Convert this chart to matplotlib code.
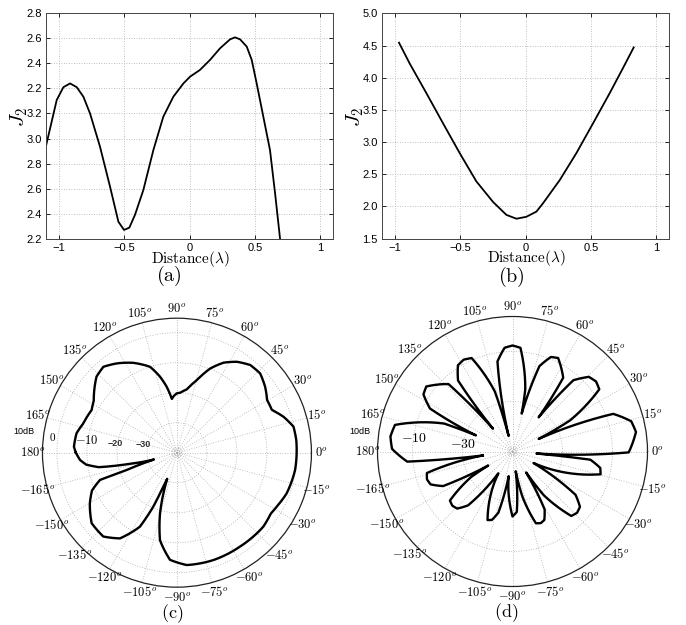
import numpy as np
import matplotlib.pyplot as plt

plt.rcParams['mathtext.fontset'] = 'cm'
plt.rcParams['font.family'] = ['Liberation Sans', 'DejaVu Sans']

# ---- (a) J2 vs distance; y is on the stacked scale that the tick labels show
dist_a = [-1.1, -1.018, -0.967, -0.916, -0.865, -0.814, -0.763, -0.687, -0.61, -0.546,
          -0.503, -0.462, -0.419, -0.355, -0.278, -0.202, -0.125, -0.048, 0.003, 0.079,
          0.156, 0.232, 0.309, 0.347, 0.386, 0.437, 0.475, 0.513, 0.564, 0.615, 0.654, 0.692]
j2_a = [2.942, 3.308, 3.41, 3.44, 3.41, 3.334, 3.2, 2.936, 2.616, 2.336,
        2.27, 2.288, 2.39, 2.588, 2.908, 3.174, 3.334, 3.44, 3.494, 3.548,
        3.628, 3.72, 3.792, 3.808, 3.792, 3.734, 3.628, 3.44, 3.174, 2.908, 2.562, 2.2]
yticks_a = [2.2, 2.4, 2.6, 2.8, 3.0, 3.2, 3.4, 3.6, 3.8, 4.0]
yticklabels_a = ['2.2', '2.4', '2.6', '2.8', '3.0', '3.2', '2.2', '2.4', '2.6', '2.8']

# ---- (b)
dist_b = [-0.97, -0.888, -0.76, -0.632, -0.505, -0.377, -0.249, -0.198, -0.147, -0.07,
          0.006, 0.083, 0.134, 0.262, 0.39, 0.517, 0.645, 0.747, 0.829]
j2_b = [4.544, 4.22, 3.76, 3.29, 2.83, 2.39, 2.07, 1.97, 1.87, 1.81,
        1.84, 1.92, 2.05, 2.41, 2.83, 3.29, 3.76, 4.15, 4.47]
yticks_b = [1.5, 2.0, 2.5, 3.0, 3.5, 4.0, 4.5, 5.0]
yticklabels_b = ['1.5', '2.0', '2.5', '3.0', '3.5', '4.0', '4.5', '5.0']

xticks_ab = [-1, -0.5, 0, 0.5, 1]
xticklabels_ab = ['\u22121', '\u22120.5', '0', '0.5', '1']

# ---- polar patterns: (angle deg, dB)
theta_ticks = list(range(0, 360, 15))

pattern_c = [(-180, -6.3), (-175.7, -7.6), (-172.5, -9.5), (-169.5, -13.5), (-167, -22.8),
             (-163.5, -32), (-161, -22.3), (-160.5, -12.8), (-156, -9), (-149.8, -6.4),
             (-140.4, -3.1), (-131.3, -2.8), (-123.6, -5.7), (-116.6, -12.4), (-113.7, -20.3),
             (-112, -27.8), (-110.5, -30.7), (-108, -24.7), (-105.6, -19), (-101, -10.3),
             (-93.7, -4.2), (-85, -2.4), (-71.3, -2.2), (-56.2, -2.3), (-40.6, -2.1),
             (-33, -2.7), (-28.4, -2.2), (-20.4, -1), (-8.3, -0.2), (0, -0.1),
             (6, 0), (12.6, -0.2), (18.6, -2.5), (24.2, -5.3), (30.3, -5.2),
             (36.8, -3.3), (43.6, -1.7), (50.1, -1.9), (56.6, -3.7), (62.6, -6.2),
             (68.4, -9.8), (74.6, -14.9), (81, -18.6), (87, -20), (90, -20.2),
             (93, -21), (95.4, -22), (98.9, -17.7), (102.6, -14), (107.4, -10),
             (115.9, -6.7), (124, -4.1), (130.6, -2.3), (136.6, -3.1), (142.8, -5.4),
             (148, -7.3), (153.4, -8.2), (162.6, -7.3), (169.1, -5.9), (176.7, -5.6),
             (180, -6.3)]
rings_c = [-39.3, -38.5, -30, -20, -10, 0]

# one row per lobe, null points between them
pattern_d = [(-172.35, -38),
             (-172.0, -28.4), (-170.5, -19.0), (-168.97, -16.5), (-165.91, -14.7), (-162, -14.0),
             (-158.09, -14.7), (-155.03, -16.5), (-153.5, -19.0), (-151.63, -28.4),
             (-150, -38.8),
             (-148.37, -30.6), (-146.5, -22.1), (-144.97, -19.9), (-141.91, -18.2), (-138, -17.6),
             (-134.09, -18.2), (-131.03, -19.9), (-129.5, -22.1), (-127.63, -30.6),
             (-123, -39.6),
             (-118.54, -32.5), (-117, -24.9), (-115.74, -22.8), (-113.22, -21.4), (-110, -20.8),
             (-106.78, -21.4), (-104.26, -22.8), (-103, -24.9), (-101.46, -32.5),
             (-98.8, -40),
             (-96.1, -34.4), (-95, -27.6), (-94.1, -25.8), (-92.3, -24.5), (-90, -24.0),
             (-87.7, -24.5), (-85.9, -25.8), (-85, -27.6), (-83.9, -34.4),
             (-80.8, -42),
             (-77.65, -31.5), (-76, -23.5), (-74.65, -21.4), (-71.95, -19.8), (-68.5, -19.2),
             (-65.05, -19.8), (-62.35, -21.4), (-61, -23.5), (-59.35, -31.5),
             (-56.9, -40),
             (-54.48, -28.6), (-52.5, -19.4), (-50.88, -16.9), (-47.64, -15.1), (-43.5, -14.4),
             (-39.36, -15.1), (-36.12, -16.9), (-34.5, -19.4), (-32.52, -28.6),
             (-28.7, -40.4),
             (-24.87, -28.2), (-23, -18.7), (-21.47, -16.2), (-18.41, -14.3), (-14.5, -13.6),
             (-10.59, -14.3), (-7.53, -16.2), (-6, -18.7), (-5.6, -28.2),
             (-4.8, -40.4),
             (-4.0, -20.0), (-2.5, -7.0), (-0.43, -3.5), (3.71, -1.0), (9, 0),
             (14.29, -1.0), (18.43, -3.5), (20.5, -7.0), (23.03, -20.0),
             (25.7, -38.4),
             (28.41, -23.8), (30.5, -12.5), (32.21, -9.4), (35.63, -7.3), (40, -6.4),
             (44.37, -7.3), (47.79, -9.4), (49.5, -12.5), (51.59, -23.8),
             (52.6, -32.8),
             (53.63, -25.0), (55.5, -14.2), (57.03, -11.3), (60.09, -9.2), (64, -8.4),
             (67.91, -9.2), (70.97, -11.3), (72.5, -14.2), (74.37, -25.0),
             (76.4, -34.4),
             (78.41, -24.6), (80.5, -13.5), (82.21, -10.6), (85.63, -8.4), (90, -7.6),
             (94.37, -8.4), (97.79, -10.6), (99.5, -13.5), (101.59, -24.6),
             (104, -43.6),
             (106.41, -25.0), (108.5, -14.2), (110.21, -11.3), (113.63, -9.2), (118, -8.4),
             (122.37, -9.2), (125.79, -11.3), (127.5, -14.2), (129.59, -25.0),
             (130.5, -38),
             (131.41, -24.1), (133.5, -12.8), (135.21, -9.8), (138.63, -7.7), (143, -6.8),
             (147.37, -7.7), (150.79, -9.8), (152.5, -12.8), (154.59, -24.1),
             (156.2, -34),
             (157.75, -20.5), (160.5, -7.7), (162.75, -4.2), (167.25, -1.8), (173, -0.8),
             (178.75, -1.8), (183.25, -4.2), (185.5, -7.7), (187.3, -20.5),
             (187.65, -38)]
rings_d = [-48.4, -30, -10]

GRID = dict(linestyle=(0, (1, 2)), color='#aaaaaa', linewidth=0.6)

fig = plt.figure(figsize=(6.86, 6.25), dpi=100)


def line_panel(rect, x, y, ylim, yticks, yticklabels):
    ax = fig.add_axes(rect)
    ax.plot(x, y, color='black', lw=1.3)
    ax.set_xlim(-1.1, 1.1)
    ax.set_ylim(*ylim)
    ax.set_xticks(xticks_ab)
    ax.set_xticklabels(xticklabels_ab, fontsize=8)
    ax.set_yticks(yticks)
    ax.set_yticklabels(yticklabels, fontsize=8)
    ax.tick_params(direction='in', top=True, right=True, length=3, width=0.6, pad=3)
    ax.grid(True, **GRID)
    for s in ax.spines.values():
        s.set_color('#444444')
        s.set_linewidth(0.7)
    return ax


line_panel([0.0671, 0.6181, 0.4188, 0.3606], dist_a, j2_a, (2.2, 4.0), yticks_a, yticklabels_a)
line_panel([0.5569, 0.6181, 0.4184, 0.3606], dist_b, j2_b, (1.5, 5.0), yticks_b, yticklabels_b)

# axis labels and captions of the top row
fig.text(190 / 686, 1 - 259 / 625, r'$\mathrm{Distance}(\lambda)$', ha='center', va='center', fontsize=11)
fig.text(526 / 686, 1 - 258 / 625, r'$\mathrm{Distance}(\lambda)$', ha='center', va='center', fontsize=11)
fig.text(169 / 686, 1 - 276 / 625, r'$\mathrm{(a)}$', ha='center', va='center', fontsize=14.5)
fig.text(511 / 686, 1 - 277 / 625, r'$\mathrm{(b)}$', ha='center', va='center', fontsize=14.5)
fig.text(19 / 686, 1 - 117 / 625, r'$J_2$', ha='center', va='center', fontsize=15, rotation=90)
fig.text(355 / 686, 1 - 117 / 625, r'$J_2$', ha='center', va='center', fontsize=15, rotation=90)


def polar_panel(rect, pattern, rmin, rmax, rings):
    ax = fig.add_axes(rect, projection='polar')
    ang = np.deg2rad([p[0] for p in pattern])
    db = [p[1] for p in pattern]
    line, = ax.plot(ang, db, color='black', lw=1.7, solid_joinstyle='round')
    # let the polar transform bend each segment instead of drawing chords
    line.get_path()._interpolation_steps = 40
    ax.set_xticks(np.deg2rad(theta_ticks))
    ax.set_xticklabels([])
    ax.set_thetalim(0, 2 * np.pi)
    ax.set_ylim(rmin, rmax)
    ax.set_yticks(rings)
    ax.set_yticklabels([])
    ax.grid(True, **GRID)
    ax.tick_params(axis='x', direction='in', length=4, width=0.7, color='black')
    ax.spines['polar'].set_linewidth(0.9)
    ax.spines['polar'].set_color('#222222')
    rlab = rmax + 0.075 * (rmax - rmin)
    for t in theta_ticks:
        shown = t if t <= 180 else t - 360
        ax.text(np.deg2rad(t), rlab, r'$%d^o$' % shown, ha='center', va='center', fontsize=9)
    return ax


axc = polar_panel([0.0619, 0.0605, 0.3921, 0.4304], pattern_c, -40, 4.83, rings_c)
axc.text(np.deg2rad(172.6), 1.7, r'$0$', ha='center', va='center', fontsize=8)
axc.text(np.deg2rad(172.4), -9.7, r'$-10$', ha='center', va='center', fontsize=9)
axc.text(np.deg2rad(172.0), -19.1, '\u221220', ha='center', va='center', fontsize=6.5,
         fontweight='bold', color='#333333')
axc.text(np.deg2rad(166.8), -28.3, '\u221230', ha='center', va='center', fontsize=6.5,
         fontweight='bold', color='#333333')

axd = polar_panel([0.5503, 0.0616, 0.3936, 0.432], pattern_d, -50, 4.0, rings_d)
axd.text(np.deg2rad(172.2), -10.2, r'$-10$', ha='center', va='center', fontsize=10)
axd.text(np.deg2rad(171.5), -29.8, r'$-30$', ha='center', va='center', fontsize=10)

fig.text(23.5 / 686, 1 - 432 / 625, '10dB', ha='center', va='center', fontsize=6.5)
fig.text(359.5 / 686, 1 - 431 / 625, '10dB', ha='center', va='center', fontsize=6.5)
fig.text(172 / 686, 1 - 614 / 625, r'$\mathrm{(c)}$', ha='center', va='center', fontsize=13)
fig.text(506 / 686, 1 - 613 / 625, r'$\mathrm{(d)}$', ha='center', va='center', fontsize=13)

fig.savefig('out.png', dpi=100, facecolor='white')
